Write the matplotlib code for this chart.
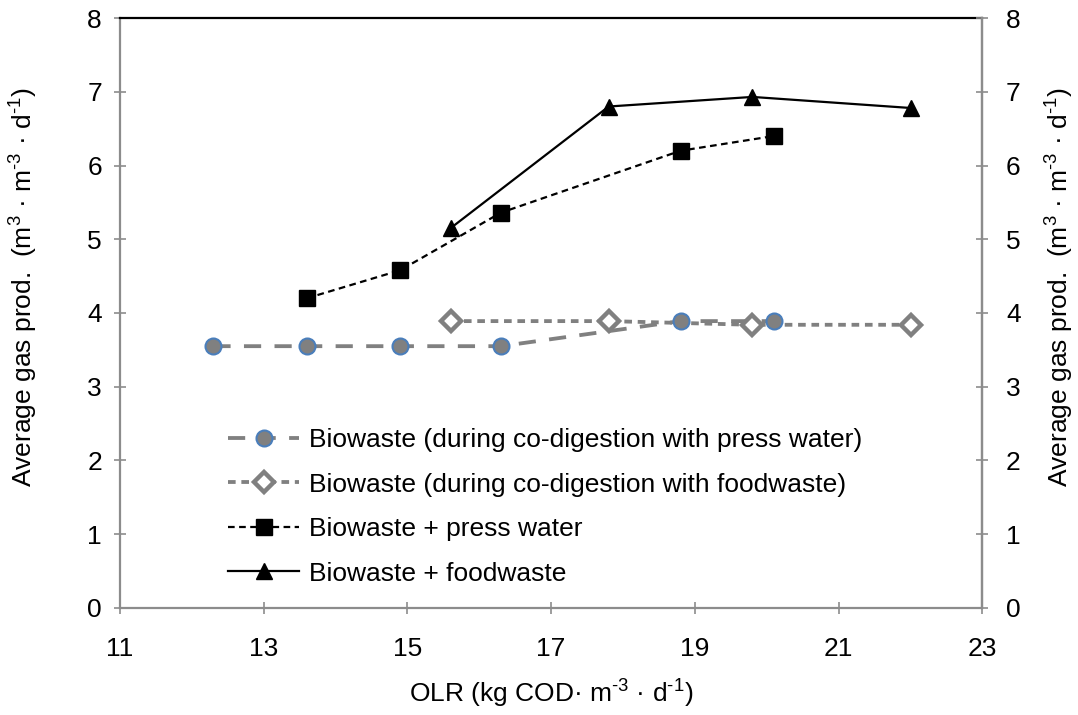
import matplotlib
matplotlib.use("Agg")
import matplotlib.pyplot as plt

plt.rcParams['font.family'] = ['Liberation Sans', 'DejaVu Sans']
plt.rcParams['mathtext.fontset'] = 'custom'
plt.rcParams['mathtext.rm'] = 'Liberation Sans'
plt.rcParams['mathtext.it'] = 'Liberation Sans'

# Organic loading rate (kg COD m-3 d-1) and average gas production (m3 m-3 d-1)
olr_bw_pw = [12.3, 13.6, 14.9, 16.3, 18.8, 20.1]
gas_bw_pw = [3.55, 3.55, 3.55, 3.55, 3.89, 3.89]

olr_bw_fw = [15.6, 17.8, 19.8, 22.0]
gas_bw_fw = [3.89, 3.89, 3.84, 3.84]

olr_press = [13.6, 14.9, 16.3, 18.8, 20.1]
gas_press = [4.20, 4.58, 5.36, 6.20, 6.40]

olr_food = [15.6, 17.8, 19.8, 22.0]
gas_food = [5.15, 6.80, 6.93, 6.78]

labels = [
    "Biowaste (during co-digestion with press water)",
    "Biowaste (during co-digestion with foodwaste)",
    "Biowaste + press water",
    "Biowaste + foodwaste",
]

x_ticks = [11, 13, 15, 17, 19, 21, 23]
y_ticks = [0, 1, 2, 3, 4, 5, 6, 7, 8]

fs = 19

fig = plt.figure(figsize=(10.78, 7.15), dpi=100)
ax = fig.add_axes([0.1113, 0.1497, 0.8, 0.8251])

gray = '#808080'
axis_gray = '#8c8c8c'

ax.plot(olr_bw_pw, gas_bw_pw, color=gray, lw=2.75, dashes=(4.5, 3.5),
        marker='o', ms=11.5, mfc=gray, mec='#4a7ebb', mew=1.5, label=labels[0])
ax.plot(olr_bw_fw, gas_bw_fw, color=gray, lw=2.75, dashes=(2.0, 1.5),
        marker='D', ms=10, mfc='white', mec=gray, mew=3.2, label=labels[1])
ax.plot(olr_press, gas_press, color='black', lw=1.6, dashes=(3, 2),
        marker='s', ms=11, mfc='black', mec='black', label=labels[2])
ax.plot(olr_food, gas_food, color='black', lw=1.6,
        marker='^', ms=12, mfc='black', mec='black', label=labels[3])

ax.set_xlim(11, 23)
ax.set_ylim(0, 8)
ax.set_xticks(x_ticks)
ax.set_yticks(y_ticks)

for side in ('left', 'bottom', 'right'):
    ax.spines[side].set_color(axis_gray)
    ax.spines[side].set_linewidth(1.6)
ax.spines['top'].set_color('black')
ax.spines['top'].set_linewidth(1.6)

ax.tick_params(axis='both', which='major', labelsize=fs, direction='inout',
               color=axis_gray, width=1.2, length=8)
ax.tick_params(axis='x', pad=17)
ax.tick_params(axis='y', pad=9)

ylab = r"Average gas prod.  (m$^{3}$ · m$^{\text{-}3}$ · d$^{\text{-}1}$)"
ax.set_ylabel(ylab, fontsize=fs)
ax.yaxis.set_label_coords(-0.093, 0.544)
ax.set_xlabel(r"OLR (kg COD· m$^{\text{-}3}$ · d$^{\text{-}1}$)", fontsize=fs, labelpad=12)

ax2 = ax.twinx()
ax2.set_ylim(0, 8)
ax2.set_yticks(y_ticks)
for side in ('left', 'bottom', 'top'):
    ax2.spines[side].set_visible(False)
ax2.spines['right'].set_color(axis_gray)
ax2.spines['right'].set_linewidth(1.6)
ax2.tick_params(axis='y', labelsize=fs, direction='inout', color=axis_gray,
                width=1.2, length=8, pad=13)
ax2.set_ylabel(ylab, fontsize=fs)
ax2.yaxis.set_label_coords(1.071, 0.544)

ax.legend(loc='upper left', bbox_to_anchor=(0.113, 0.323), frameon=False,
          fontsize=fs, handlelength=2.7, handletextpad=0.38,
          labelspacing=0.78, borderaxespad=0)

fig.savefig("out.png", dpi=100)
